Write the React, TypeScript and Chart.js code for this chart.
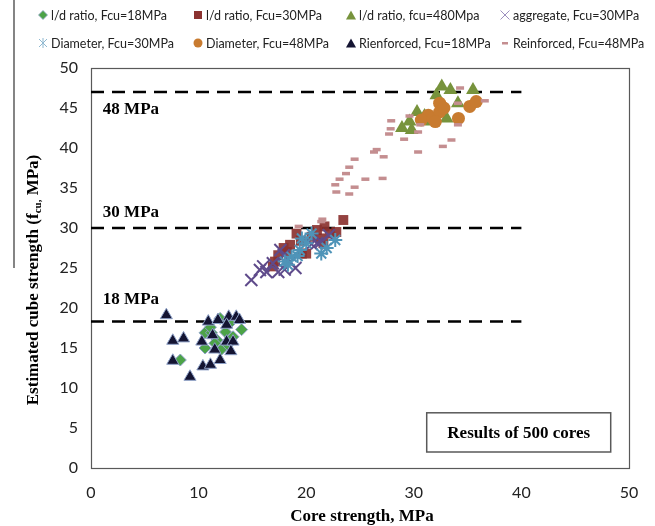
import React, { useEffect, useRef } from "react";
import { Chart, registerables } from "chart.js";
Chart.register(...registerables);

type P = [number, number];

const ldRatio18: P[] = [
  [8.3, 13.5], [10.6, 16.9], [11.2, 16.9], [11.7, 16.0], [10.6, 15.0], [12.1, 14.8], [12.7, 15.4],
  [12.9, 18.1], [12.5, 17.0], [11.1, 17.6], [12.0, 18.7], [14.0, 17.3], [11.5, 15.6], [13.2, 16.4],
];
const ldRatio30: P[] = [
  [16.9, 25.2], [17.1, 25.8], [17.4, 26.6], [17.9, 27.5], [18.5, 27.9], [19.1, 29.3], [19.6, 26.8],
  [20.0, 26.8], [20.5, 28.9], [21.0, 29.75], [21.3, 28.7], [21.6, 28.1], [21.7, 30.2], [22.2, 29.3],
  [22.8, 29.5], [23.45, 31.0], [18.2, 27.0], [19.5, 28.4],
];
const ldRatio480: P[] = [
  [32.6, 47.7], [33.4, 47.25], [35.5, 47.25], [32.1, 46.6], [34.1, 45.6], [33.05, 43.7], [31.65, 43.3],
  [30.3, 44.5], [29.6, 43.3], [28.9, 42.5], [29.8, 42.25], [32.6, 45.2], [31.0, 44.0],
];
const aggregate30: P[] = [
  [14.9, 23.5], [15.7, 24.75], [16.3, 24.5], [16.9, 25.6], [17.4, 24.5], [17.6, 27.25], [17.9, 26.6],
  [18.5, 25.8], [19.0, 25.0], [21.0, 28.1], [21.4, 28.3], [22.1, 29.1], [16.0, 25.2], [18.0, 24.8], [20.5, 28.0],
];
const diameter30: P[] = [
  [18.0, 25.8], [18.3, 25.4], [18.65, 26.4], [19.4, 27.25], [19.6, 28.7], [20.0, 28.1], [20.5, 29.3],
  [21.4, 26.8], [21.9, 27.5], [22.7, 28.5], [19.2, 26.5],
];
const diameter48: P[] = [
  [32.4, 45.6], [31.35, 44.1], [30.7, 43.5], [31.8, 43.7], [32.4, 44.5], [34.15, 43.7], [35.2, 45.2],
  [35.8, 45.8], [32.0, 43.3], [32.8, 45.0],
];
const reinforced18: P[] = [
  [7.0, 19.1], [7.6, 15.9], [8.6, 16.2], [7.6, 13.4], [9.2, 11.4], [10.4, 12.7], [11.1, 12.9],
  [10.9, 18.3], [11.8, 18.5], [12.8, 18.9], [13.5, 18.9], [10.3, 15.8], [11.5, 14.8], [12.6, 15.8],
  [13.2, 15.8], [12.0, 13.5], [12.6, 17.9], [13.8, 18.5], [13.0, 14.6], [11.3, 16.6],
];
const reinforced48: P[] = [
  [34.3, 47.5], [36.6, 45.9], [34.1, 45.6], [34.1, 42.9], [33.5, 41.0], [32.7, 40.2], [30.4, 39.5],
  [29.6, 44.0], [30.6, 42.9], [30.4, 42.0], [27.9, 43.4], [27.85, 42.4], [27.7, 41.75], [29.1, 41.1],
  [26.55, 39.8], [26.3, 39.5], [27.2, 38.9], [24.5, 38.6], [24.0, 37.6], [23.7, 36.8], [23.1, 36.1],
  [22.7, 35.4], [22.8, 34.5], [24.0, 34.25], [24.5, 35.1], [25.5, 36.1], [27.1, 36.2], [21.5, 31.1],
  [19.3, 30.2], [21.4, 30.8],
];

const seriesNames = [
  "l/d ratio, Fcu=18MPa",
  "l/d ratio, Fcu=30MPa",
  "l/d ratio, fcu=480Mpa",
  "aggregate, Fcu=30MPa",
  "Diameter, Fcu=30MPa",
  "Diameter, Fcu=48MPa",
  "Rienforced, Fcu=18MPa",
  "Reinforced, Fcu=48MPa",
];

const thresholdLevels = [47, 30, 18.3];
const thresholdLabels = ["48 MPa", "30 MPa", "18 MPa"];
const thresholdLabelY = [44.8, 31.9, 21.0];
const thresholdXRange = [0, 40];
const noteText = "Results of 500 cores";
const xTitle = "Core strength, MPa";

const W = 655;
const H = 526;

const overlay = {
  id: "overlay",
  beforeDatasetsDraw(chart: any) {
    const { ctx, chartArea: a } = chart;
    ctx.save();
    ctx.strokeStyle = "#595959";
    ctx.lineWidth = 1.2;
    ctx.strokeRect(a.left + 0.5, a.top + 0.5, a.right - a.left, a.bottom - a.top);
    ctx.restore();
  },
  afterDraw(chart: any) {
    const { ctx, scales } = chart;
    const xs = scales.x, ys = scales.y;
    ctx.save();
    ctx.fillStyle = "#000";
    ctx.font = "bold 17px 'Liberation Serif', 'Times New Roman', serif";
    ctx.textBaseline = "middle";
    ctx.textAlign = "left";
    thresholdLabels.forEach((t, i) => {
      ctx.fillText(t, xs.getPixelForValue(1.1), ys.getPixelForValue(thresholdLabelY[i]));
    });
    const bx = xs.getPixelForValue(31.2), bx2 = xs.getPixelForValue(48.3);
    const by = ys.getPixelForValue(6.9), by2 = ys.getPixelForValue(2.0);
    ctx.fillStyle = "#fff";
    ctx.fillRect(bx, by, bx2 - bx, by2 - by);
    ctx.strokeStyle = "#595959";
    ctx.lineWidth = 1.5;
    ctx.strokeRect(bx, by, bx2 - bx, by2 - by);
    ctx.fillStyle = "#000";
    ctx.textAlign = "center";
    ctx.fillText(noteText, (bx + bx2) / 2, (by + by2) / 2 + 1);
    ctx.fillText(xTitle, 362, 517);
    ctx.translate(34, 280);
    ctx.rotate(-Math.PI / 2);
    const big = "bold 17px 'Liberation Serif', 'Times New Roman', serif";
    const small = "bold 11px 'Liberation Serif', 'Times New Roman', serif";
    const parts: [string, string, number][] = [
      ["Estimated cube strength (f", big, 0],
      ["cu,", small, 4],
      [" MPa)", big, 0],
    ];
    let total = 0;
    parts.forEach(([s, f]) => { ctx.font = f; total += ctx.measureText(s).width; });
    let x = -total / 2;
    ctx.textAlign = "left";
    parts.forEach(([s, f, dy]) => {
      ctx.font = f;
      ctx.fillText(s, x, dy);
      x += ctx.measureText(s).width;
    });
    ctx.restore();
    ctx.save();
    ctx.strokeStyle = "#333";
    ctx.lineWidth = 1.2;
    ctx.beginPath();
    ctx.moveTo(14, 0);
    ctx.lineTo(14, 268);
    ctx.stroke();
    ctx.restore();
  },
};

function Marker({ kind }: { kind: number }) {
  const s = 12;
  let el: any = null;
  switch (kind) {
    case 0: el = <polygon points="6,1.5 10.5,6 6,10.5 1.5,6" fill="#4CA347" stroke="#8FA2C8" strokeWidth="0.8" />; break;
    case 1: el = <rect x="2" y="2" width="8" height="8" fill="#8B3230" />; break;
    case 2: el = <polygon points="6,1.5 11,10.5 1,10.5" fill="#77933C" />; break;
    case 3: el = <g stroke="#9C8FBF" strokeWidth="1"><line x1="1.5" y1="1.5" x2="10.5" y2="10.5" /><line x1="10.5" y1="1.5" x2="1.5" y2="10.5" /></g>; break;
    case 4: el = <g stroke="#8FB8D0" strokeWidth="1"><line x1="2" y1="2" x2="10" y2="10" /><line x1="10" y1="2" x2="2" y2="10" /><line x1="6" y1="1" x2="6" y2="11" /></g>; break;
    case 5: el = <circle cx="6" cy="6" r="4.5" fill="#C87B30" />; break;
    case 6: el = <polygon points="6,1.5 11,10.5 1,10.5" fill="#141432" />; break;
    case 7: el = <rect x="3" y="5" width="6" height="2.5" fill="#C48E90" />; break;
  }
  return <svg width={s} height={s} style={{ display: "block" }}>{el}</svg>;
}

const legendCols = [43, 198, 351, 505];
const legendRows = [15, 43];

export default function App() {
  const ref = useRef<HTMLCanvasElement | null>(null);
  useEffect(() => {
    if (!ref.current) return;
    const base = (data: P[], i: number) => ({
      label: seriesNames[i],
      data: data.map(([x, y]) => ({ x, y })),
      order: 20 - i,
    });
    const dashed = (level: number) => ({
      label: "ref" + level,
      data: thresholdXRange.map((x) => ({ x, y: level })),
      showLine: true,
      borderColor: "#000",
      borderWidth: 2.5,
      borderDash: [13, 8],
      pointRadius: 0,
      order: 100,
    });
    const chart = new Chart(ref.current, {
      type: "scatter",
      data: {
        datasets: [
          { ...base(ldRatio18, 0), pointStyle: "rectRot", pointRadius: 6, backgroundColor: "#4CA347", borderColor: "#8FA2C8", borderWidth: 1 },
          { ...base(ldRatio30, 1), pointStyle: "rect", pointRadius: 7, backgroundColor: "rgba(139,50,48,0.92)", borderColor: "rgba(139,50,48,0.92)", borderWidth: 0 },
          { ...base(ldRatio480, 2), pointStyle: "triangle", pointRadius: 8, backgroundColor: "#77933C", borderColor: "#77933C", borderWidth: 0 },
          { ...base(aggregate30, 3), pointStyle: "crossRot", pointRadius: 8.5, borderColor: "#5F4B8B", borderWidth: 2 },
          { ...base(diameter30, 4), pointStyle: "star", pointRadius: 7, borderColor: "#4F94B8", borderWidth: 2 },
          { ...base(diameter48, 5), pointStyle: "circle", pointRadius: 6.5, backgroundColor: "#C87B30", borderColor: "#C87B30", borderWidth: 0 },
          { ...base(reinforced18, 6), pointStyle: "triangle", pointRadius: 7, backgroundColor: "#141432", borderColor: "#8FA2C8", borderWidth: 1 },
          { ...base(reinforced48, 7), pointStyle: "line", pointRadius: 4, borderColor: "#C48E90", borderWidth: 3.5 },
          ...thresholdLevels.map(dashed),
        ] as any,
      },
      options: {
        animation: false,
        responsive: false,
        maintainAspectRatio: false,
        layout: { padding: { top: 68, right: 26, left: 0, bottom: 0 } },
        plugins: { legend: { display: false }, tooltip: { enabled: false } },
        scales: {
          x: {
            type: "linear",
            min: 0,
            max: 50,
            ticks: { stepSize: 10, padding: 15, color: "#222", font: { family: "Lato", size: 16 } },
            grid: { display: false, drawTicks: false },
            border: { display: false },
            afterFit: (s: any) => { s.height = 58; },
          },
          y: {
            type: "linear",
            min: 0,
            max: 50,
            ticks: { stepSize: 5, padding: 13, color: "#222", font: { family: "Lato", size: 16 } },
            grid: { display: false, drawTicks: false },
            border: { display: false },
            afterFit: (s: any) => { s.width = 91; },
          },
        },
      } as any,
      plugins: [overlay],
    });
    return () => chart.destroy();
  }, []);

  return (
    <div style={{ position: "fixed", left: 0, top: 0, width: W, height: H, background: "#fff" }}>
      <canvas ref={ref} width={W} height={H} style={{ position: "absolute", left: 0, top: 0, width: W, height: H }} />
      {seriesNames.map((n, i) => (
        <div
          key={n}
          style={{
            position: "absolute",
            left: legendCols[i % 4] - 6,
            top: legendRows[Math.floor(i / 4)] - 9,
            height: 18,
            display: "flex",
            alignItems: "center",
            gap: 2,
            fontFamily: "Lato, 'Open Sans', sans-serif",
            fontSize: 12.5,
            color: "#222",
            whiteSpace: "nowrap",
          }}
        >
          <Marker kind={i} />
          <span>{n}</span>
        </div>
      ))}
    </div>
  );
}
